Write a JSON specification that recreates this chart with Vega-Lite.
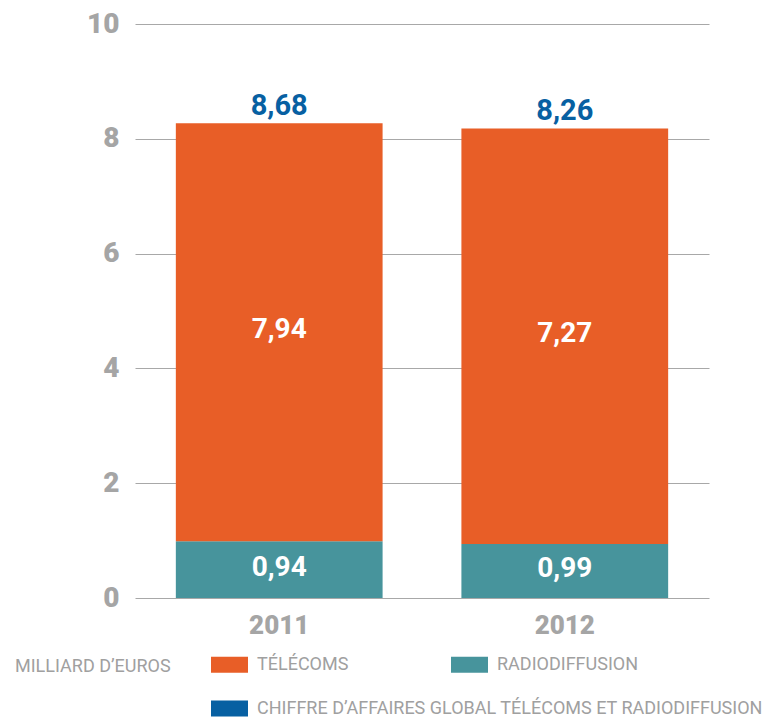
{
  "$schema": "https://vega.github.io/schema/vega-lite/v6.json",
  "width": 574,
  "height": 574,
  "autosize": {"type": "none"},
  "padding": {"left": 135, "top": 24, "right": 69, "bottom": 120},
  "background": "white",
  "config": {
    "view": {"stroke": null},
    "font": "Roboto",
    "text": {"font": "Roboto"}
  },
  "datasets": {
    "segments": [
      {"year": "2011", "series": "RADIODIFFUSION", "value": 0.99, "label": "0,94"},
      {"year": "2011", "series": "TÉLÉCOMS", "value": 7.28, "label": "7,94"},
      {"year": "2012", "series": "RADIODIFFUSION", "value": 0.94, "label": "0,99"},
      {"year": "2012", "series": "TÉLÉCOMS", "value": 7.24, "label": "7,27"}
    ],
    "totals": [
      {"year": "2011", "series": "CHIFFRE D’AFFAIRES GLOBAL TÉLÉCOMS ET RADIODIFFUSION", "value": 8.27, "label": "8,68"},
      {"year": "2012", "series": "CHIFFRE D’AFFAIRES GLOBAL TÉLÉCOMS ET RADIODIFFUSION", "value": 8.18, "label": "8,26"}
    ]
  },
  "layer": [
    {
      "data": {"name": "segments"},
      "mark": {"type": "bar"},
      "encoding": {
        "x": {
          "field": "year",
          "type": "nominal",
          "scale": {"paddingInner": 0.276, "paddingOuter": 0.143},
          "axis": {
            "title": null,
            "domain": false,
            "ticks": false,
            "labelAngle": 0,
            "labelFont": "Roboto",
            "labelFontSize": 26,
            "labelFontWeight": 900,
            "labelColor": "#a5a5a5",
            "labelPadding": 14
          }
        },
        "y": {
          "field": "value",
          "type": "quantitative",
          "stack": "zero",
          "scale": {"domain": [0, 10], "nice": false},
          "axis": {
            "title": null,
            "domain": false,
            "ticks": false,
            "values": [0, 2, 4, 6, 8, 10],
            "format": "d",
            "grid": true,
            "gridColor": "#a8a8a8",
            "gridWidth": 1,
            "labelFlush": false,
            "labelFont": "Roboto",
            "labelFontSize": 28,
            "labelFontWeight": 900,
            "labelColor": "#a5a5a5",
            "labelPadding": 16
          }
        },
        "color": {
          "field": "series",
          "type": "nominal",
          "scale": {
            "domain": ["TÉLÉCOMS", "RADIODIFFUSION"],
            "range": ["#e85e27", "#47949c"]
          },
          "legend": {
            "orient": "none",
            "direction": "horizontal",
            "legendX": -120,
            "legendY": 622,
            "title": "MILLIARD D’EUROS",
            "titleOrient": "left",
            "titleAnchor": "middle",
            "titleBaseline": "line-top",
            "titleLineHeight": 14,
            "titleFont": "Roboto",
            "titleFontSize": 18,
            "titleFontWeight": "normal",
            "titleColor": "#a0a0a0",
            "titlePadding": 40,
            "columnPadding": 102,
            "symbolType": "M-1,-0.432H1V0.432H-1Z",
            "symbolSize": 1369,
            "symbolStrokeWidth": 0,
            "symbolOpacity": 1,
            "labelFont": "Roboto",
            "labelFontSize": 18,
            "labelColor": "#a0a0a0",
            "labelOffset": 9,
            "labelLimit": 600
          }
        },
        "order": {"field": "series", "sort": "ascending"}
      }
    },
    {
      "data": {"name": "segments"},
      "transform": [
        {"stack": "value", "groupby": ["year"], "sort": [{"field": "series", "order": "ascending"}], "as": ["v0", "v1"]},
        {"calculate": "(datum.v0 + datum.v1) / 2", "as": "mid"}
      ],
      "mark": {"type": "text", "color": "white", "font": "Roboto", "fontWeight": "bold", "fontSize": 28, "baseline": "middle", "dy": -2},
      "encoding": {
        "x": {"field": "year", "type": "nominal"},
        "y": {"field": "mid", "type": "quantitative"},
        "text": {"field": "label"}
      }
    },
    {
      "data": {"name": "totals"},
      "mark": {"type": "text", "font": "Roboto", "fontWeight": "bold", "fontSize": 29, "baseline": "alphabetic", "dy": -8},
      "encoding": {
        "x": {"field": "year", "type": "nominal"},
        "y": {"field": "value", "type": "quantitative"},
        "text": {"field": "label"},
        "fill": {
          "field": "series",
          "type": "nominal",
          "scale": {"range": ["#0760a2"]},
          "legend": {
            "orient": "none",
            "direction": "horizontal",
            "legendX": 76,
            "legendY": 666,
            "title": null,
            "symbolType": "M-1,-0.432H1V0.432H-1Z",
            "symbolSize": 1369,
            "symbolStrokeWidth": 0,
            "symbolOpacity": 1,
            "labelFont": "Roboto",
            "labelFontSize": 18,
            "labelColor": "#a0a0a0",
            "labelOffset": 9,
            "labelLimit": 600
          }
        }
      }
    }
  ]
}
